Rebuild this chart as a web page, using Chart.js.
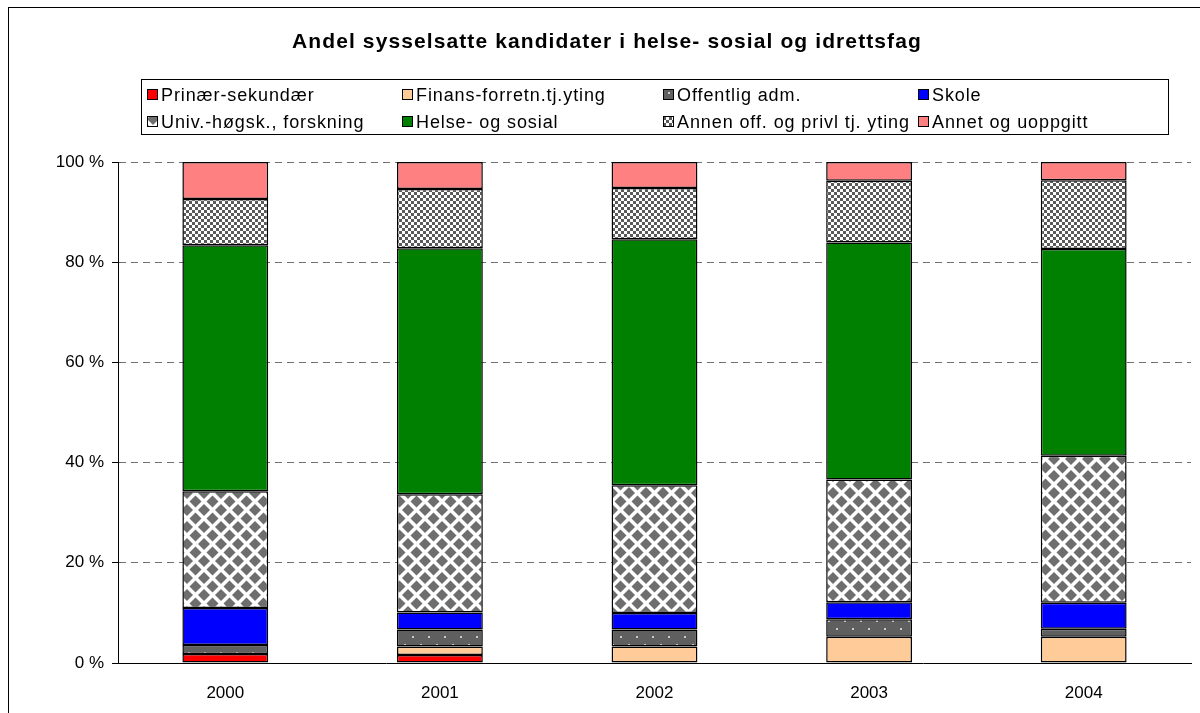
<!DOCTYPE html>
<html>
<head>
<meta charset="utf-8">
<script src="https://cdn.jsdelivr.net/npm/chart.js@4.4.1/dist/chart.umd.min.js"></script>
<style>
  html, body { margin: 0; padding: 0; background: #ffffff; }
  #wrap { width: 1200px; height: 713px; position: relative; }
</style>
</head>
<body>
<div id="wrap"><canvas id="c" width="1200" height="713"></canvas></div>
<script>
const chartTitle = 'Andel sysselsatte kandidater i helse- sosial og idrettsfag';
const categories = ['2000', '2001', '2002', '2003', '2004'];
const seriesNames = ['Prinær-sekundær', 'Finans-forretn.tj.yting', 'Offentlig adm.', 'Skole',
                     'Univ.-høgsk., forskning', 'Helse- og sosial', 'Annen off. og privl tj. yting', 'Annet og uoppgitt'];
const primaer   = [1.8, 1.6, 0, 0, 0];
const finans    = [0, 1.7, 3.3, 5.25, 5.25];
const offentlig = [1.8, 3.4, 3.4, 3.5, 1.6];
const skole     = [7.4, 3.4, 3.3, 3.4, 5.2];
const univ      = [23.3, 23.6, 25.5, 24.5, 29.3];
const helse     = [49.1, 49.1, 49.1, 47.3, 41.3];
const annen     = [9.2, 11.8, 10.2, 12.3, 13.7];
const annet     = [7.4, 5.4, 5.2, 3.75, 3.65];
const yTicks    = [0, 20, 40, 60, 80, 100];

const FONT = '"Liberation Sans", Arial, sans-serif';

function makePattern(w, h, draw) {
  const c = document.createElement('canvas');
  c.width = w; c.height = h;
  const x = c.getContext('2d');
  draw(x, w, h);
  return document.getElementById('c').getContext('2d').createPattern(c, 'repeat');
}
const patOff = makePattern(16, 16, (x) => {
  x.fillStyle = '#5f5f5f'; x.fillRect(0, 0, 16, 16);
  x.fillStyle = '#c8c8c8';
  x.fillRect(4, 4, 2, 2); x.fillRect(12, 12, 2, 2);
});
const patUniv = makePattern(17, 17, (x) => {
  x.fillStyle = '#ffffff'; x.fillRect(0, 0, 17, 17);
  x.fillStyle = '#6e6e6e';
  const dia = (cx, cy, r) => { x.beginPath(); x.moveTo(cx, cy - r); x.lineTo(cx + r, cy); x.lineTo(cx, cy + r); x.lineTo(cx - r, cy); x.closePath(); x.fill(); };
  dia(8.5, 8.5, 6);
  dia(0, 0, 6); dia(17, 0, 6); dia(0, 17, 6); dia(17, 17, 6);
});
const patAnnen = makePattern(6, 6, (x) => {
  x.fillStyle = '#ffffff'; x.fillRect(0, 0, 6, 6);
  x.fillStyle = '#5a5a5a';
  x.fillRect(0, 0, 3, 3); x.fillRect(3, 3, 3, 3);
});

const fills = ['#ff0000', '#ffcc99', patOff, '#0000ff', patUniv, '#008000', patAnnen, '#ff8080'];
const values = [primaer, finans, offentlig, skole, univ, helse, annen, annet];

const datasets = seriesNames.map((name, i) => ({
  label: name,
  data: values[i],
  backgroundColor: fills[i],
  borderColor: '#000000',
  borderWidth: 1.5,
  borderSkipped: false,
  inflateAmount: 0,
  categoryPercentage: 1.0,
  barPercentage: 0.4
}));

const decor = {
  id: 'decor',
  beforeDraw(chart) {
    const ctx = chart.ctx;
    ctx.save();
    ctx.fillStyle = '#ffffff';
    ctx.fillRect(0, 0, chart.width, chart.height);
    ctx.strokeStyle = '#000000';
    ctx.lineWidth = 1;
    ctx.strokeRect(8.5, 7.5, 1400, 900);
    ctx.restore();
  },
  afterDraw(chart) {
    const ctx = chart.ctx;
    ctx.save();
    // title
    ctx.fillStyle = '#000000';
    ctx.font = 'bold 21px ' + FONT;
    ctx.letterSpacing = '1.1px';
    ctx.textAlign = 'center';
    ctx.textBaseline = 'middle';
    ctx.fillText(chartTitle, 607, 42);
    // legend box
    ctx.strokeStyle = '#000000';
    ctx.lineWidth = 1;
    ctx.strokeRect(141.5, 79.5, 1027, 55);
    const colX = [147, 402, 663, 918];
    const rowY = [95, 122];
    ctx.font = '18px ' + FONT;
    ctx.letterSpacing = '0.9px';
    ctx.textAlign = 'left';
    chart.data.datasets.forEach((ds, i) => {
      const col = i % 4, row = Math.floor(i / 4);
      const mx = colX[col], my = rowY[row];
      ctx.fillStyle = ds.backgroundColor;
      ctx.fillRect(mx, my - 6, 11, 11);
      ctx.strokeStyle = '#000000';
      ctx.strokeRect(mx + 0.5, my - 5.5, 10, 10);
      ctx.fillStyle = '#000000';
      ctx.fillText(ds.label, mx + 14, my + 1);
    });
    ctx.restore();
  }
};

new Chart(document.getElementById('c'), {
  type: 'bar',
  data: { labels: categories, datasets },
  plugins: [decor],
  options: {
    responsive: false,
    animation: false,
    layout: { padding: { left: 0, right: 9, top: 162, bottom: 0 } },
    plugins: { legend: { display: false }, title: { display: false }, tooltip: { enabled: false } },
    scales: {
      x: {
        stacked: true,
        grid: { display: false },
        border: { display: true, color: '#000000', width: 1 },
        ticks: { color: '#000000', font: { family: FONT, size: 17 }, padding: 12, maxRotation: 0 },
        afterFit(s) { s.height = 50; }
      },
      y: {
        stacked: true,
        min: 0, max: 100,
        afterBuildTicks(s) { s.ticks = yTicks.map(v => ({ value: v })); },
        grid: {
          color: (c) => c.tick && c.tick.value === 0 ? 'rgba(0,0,0,0)' : '#707070',
          tickColor: '#000000',
          tickLength: 6,
          tickBorderDash: [],
          drawTicks: true
        },
        border: { display: true, color: '#000000', width: 1, dash: [7, 5] },
        ticks: {
          color: '#000000',
          font: { family: FONT, size: 17 },
          padding: 8,
          callback: (v) => v + ' %'
        },
        afterFit(s) { s.width = 118; }
      }
    }
  }
});
</script>
</body>
</html>
